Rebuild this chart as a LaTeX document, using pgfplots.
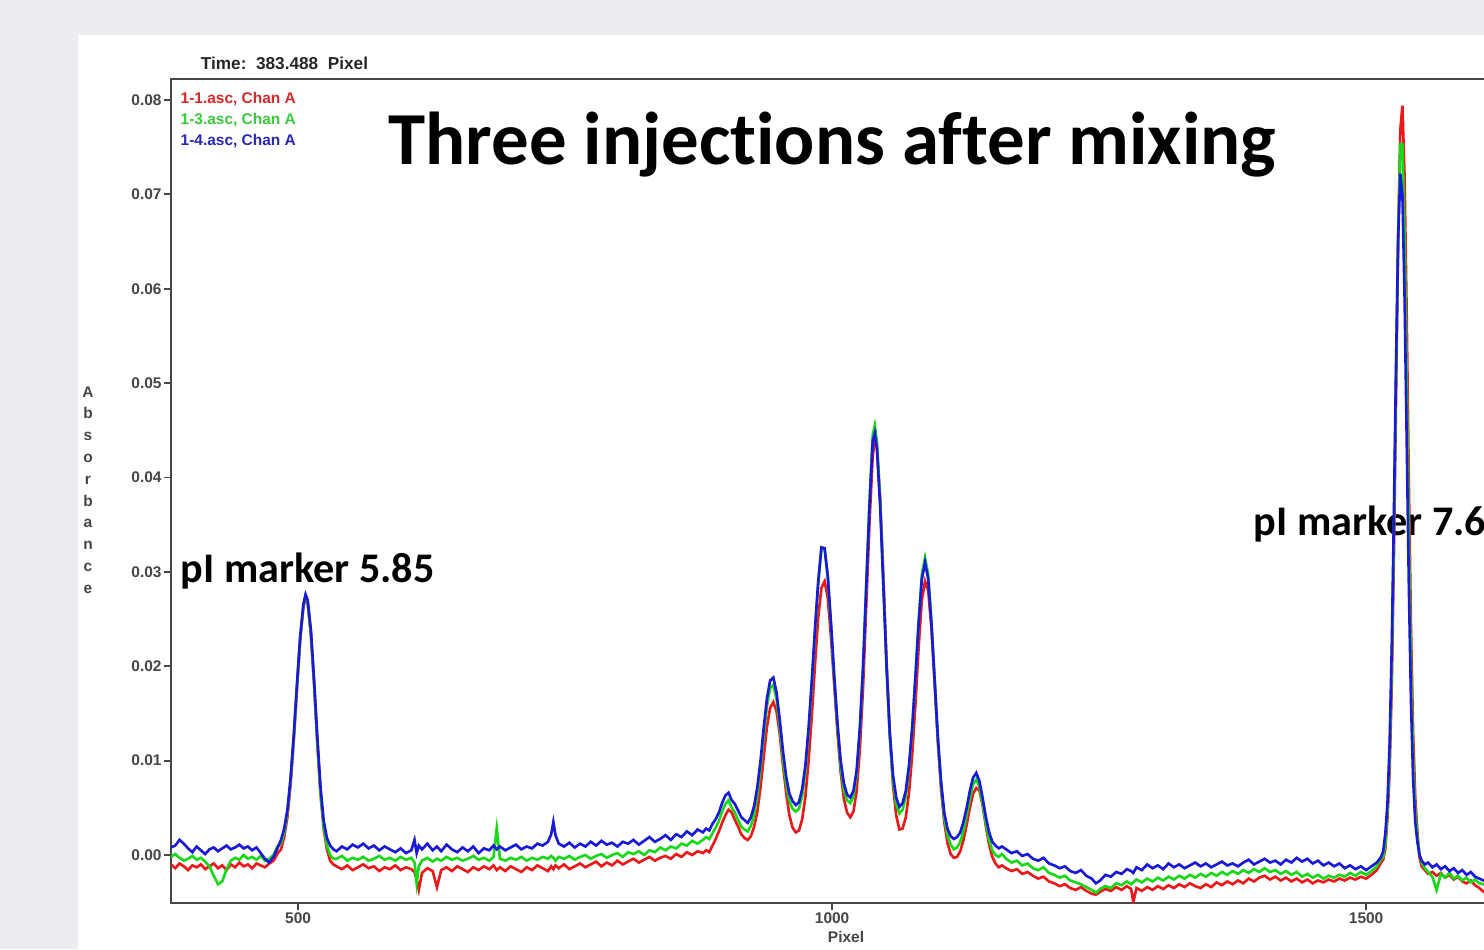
\documentclass[border=0pt]{standalone}
\usepackage{pgfplots}
\usepackage{pgfplotstable}
\pgfplotsset{compat=1.18}
\usepackage{fontspec}
\setmainfont{Liberation Sans}
\newfontfamily\calfont[Ligatures=NoCommon]{Carlito}
\newcommand\tlfont{\fontsize{4.4}{6.2}\selectfont\bfseries}
\definecolor{bggray}{RGB}{236,237,240}
\definecolor{axgray}{RGB}{70,70,70}
\definecolor{cred}{RGB}{235,25,25}
\definecolor{cgreen}{RGB}{25,215,25}
\definecolor{cblue}{RGB}{25,25,215}
\definecolor{tred}{RGB}{215,40,40}
\definecolor{tgreen}{RGB}{60,200,60}
\definecolor{tblue}{RGB}{40,40,180}

\pgfplotstableread{
x r g b
381 -0.0010 -0.0002 0.0008
385 -0.0014 0.0001 0.0010
389 -0.0009 -0.0003 0.0016
393 -0.0012 -0.0006 0.0012
397 -0.0016 -0.0004 0.0007
401 -0.0011 -0.0001 0.0003
405 -0.0013 -0.0005 0.0009
409 -0.0010 -0.0003 0.0005
413 -0.0015 -0.0007 0.0001
417 -0.0012 -0.0012 0.0006
421 -0.0009 -0.0022 0.0008
425 -0.0014 -0.0031 0.0004
429 -0.0011 -0.0028 0.0007
433 -0.0016 -0.0015 0.0010
437 -0.0010 -0.0006 0.0006
441 -0.0013 -0.0003 0.0008
445 -0.0008 -0.0005 0.0011
449 -0.0012 0.0000 0.0007
453 -0.0010 -0.0004 0.0009
457 -0.0014 -0.0002 0.0005
461 -0.0009 -0.0005 0.0008
465 -0.0011 -0.0001 0.0002
469 -0.0013 -0.0006 -0.0004
473 -0.0009 -0.0004 -0.0008
477 -0.0006 0.0000 -0.0002
481 0.0002 0.0010 0.0008
484 0.0006 0.0012 0.0016
487 0.0019 0.0024 0.0028
490 0.0040 0.0045 0.0048
493 0.0075 0.0080 0.0082
496 0.0122 0.0126 0.0128
499 0.0177 0.0180 0.0182
502 0.0228 0.0230 0.0232
505 0.0263 0.0265 0.0266
507 0.0273 0.0275 0.0276
509 0.0266 0.0268 0.0270
512 0.0233 0.0235 0.0238
515 0.0180 0.0182 0.0185
518 0.0118 0.0120 0.0125
521 0.0064 0.0066 0.0072
524 0.0027 0.0030 0.0036
527 0.0006 0.0010 0.0018
530 -0.0006 0.0000 0.0010
533 -0.0010 -0.0004 0.0006
536 -0.0012 -0.0004 0.0004
541 -0.0015 -0.0001 0.0009
546 -0.0011 -0.0006 0.0006
551 -0.0016 -0.0003 0.0011
556 -0.0013 -0.0005 0.0008
561 -0.0010 -0.0002 0.0012
566 -0.0014 -0.0006 0.0007
571 -0.0012 -0.0004 0.0010
576 -0.0017 -0.0001 0.0005
581 -0.0013 -0.0005 0.0009
586 -0.0015 -0.0003 0.0006
591 -0.0011 -0.0006 0.0003
596 -0.0016 -0.0002 0.0007
601 -0.0013 -0.0005 0.0002
606 -0.0015 -0.0003 0.0005
609 -0.0018 -0.0008 0.0016
611 -0.0026 -0.0030 0.0002
613 -0.0037 -0.0012 0.0010
616 -0.0019 -0.0006 0.0006
621 -0.0014 -0.0003 0.0012
626 -0.0017 -0.0007 0.0005
630 -0.0034 -0.0004 0.0009
634 -0.0016 -0.0006 0.0004
639 -0.0013 -0.0002 0.0011
644 -0.0017 -0.0005 0.0006
649 -0.0012 -0.0003 0.0003
654 -0.0015 -0.0006 0.0008
659 -0.0018 -0.0004 0.0004
664 -0.0013 -0.0001 0.0009
669 -0.0016 -0.0005 0.0002
674 -0.0012 -0.0003 0.0007
679 -0.0015 -0.0006 0.0005
683 -0.0011 -0.0002 0.0010
686 -0.0016 0.0028 0.0006
689 -0.0013 -0.0004 0.0009
694 -0.0017 -0.0006 0.0005
699 -0.0012 -0.0003 0.0008
704 -0.0015 -0.0005 0.0011
709 -0.0018 -0.0002 0.0006
714 -0.0013 -0.0006 0.0009
719 -0.0016 -0.0003 0.0007
724 -0.0011 -0.0005 0.0012
729 -0.0014 -0.0002 0.0010
734 -0.0017 -0.0004 0.0014
737 -0.0012 -0.0001 0.0022
739 -0.0015 -0.0003 0.0035
741 -0.0011 -0.0006 0.0021
744 -0.0014 -0.0002 0.0012
749 -0.0010 -0.0004 0.0009
754 -0.0015 -0.0001 0.0013
759 -0.0012 -0.0005 0.0008
764 -0.0009 -0.0002 0.0012
769 -0.0013 0.0000 0.0009
774 -0.0010 -0.0004 0.0014
779 -0.0007 -0.0001 0.0010
784 -0.0012 0.0001 0.0015
789 -0.0008 -0.0003 0.0011
794 -0.0011 0.0000 0.0013
799 -0.0006 0.0002 0.0009
804 -0.0010 -0.0002 0.0014
809 -0.0007 0.0003 0.0012
814 -0.0004 0.0001 0.0016
819 -0.0008 0.0004 0.0011
824 -0.0005 0.0000 0.0015
829 -0.0002 0.0005 0.0019
834 -0.0006 0.0003 0.0014
839 -0.0003 0.0008 0.0017
844 -0.0001 0.0005 0.0021
849 -0.0004 0.0009 0.0016
854 0.0001 0.0007 0.0022
859 -0.0002 0.0012 0.0019
864 0.0003 0.0010 0.0025
869 0.0000 0.0015 0.0021
874 0.0004 0.0012 0.0027
879 0.0002 0.0016 0.0024
882 0.0005 0.0019 0.0028
885 0.0003 0.0017 0.0026
888 0.0010 0.0023 0.0033
891 0.0017 0.0029 0.0038
894 0.0025 0.0036 0.0045
897 0.0034 0.0046 0.0055
900 0.0042 0.0054 0.0063
903 0.0048 0.0058 0.0066
906 0.0045 0.0050 0.0058
909 0.0037 0.0045 0.0054
912 0.0030 0.0037 0.0047
915 0.0022 0.0030 0.0040
918 0.0018 0.0027 0.0037
921 0.0016 0.0025 0.0034
924 0.0020 0.0031 0.0040
927 0.0030 0.0043 0.0052
930 0.0046 0.0063 0.0072
933 0.0072 0.0092 0.0100
936 0.0104 0.0127 0.0135
939 0.0136 0.0158 0.0166
942 0.0156 0.0177 0.0185
945 0.0162 0.0180 0.0188
948 0.0152 0.0165 0.0172
951 0.0128 0.0136 0.0143
954 0.0095 0.0102 0.0110
957 0.0066 0.0075 0.0083
960 0.0042 0.0057 0.0065
963 0.0029 0.0049 0.0057
966 0.0024 0.0046 0.0053
969 0.0026 0.0049 0.0056
972 0.0038 0.0063 0.0070
975 0.0062 0.0089 0.0095
978 0.0100 0.0130 0.0135
981 0.0148 0.0181 0.0185
984 0.0202 0.0237 0.0240
987 0.0252 0.0287 0.0290
990 0.0283 0.0324 0.0326
993 0.0290 0.0324 0.0325
996 0.0272 0.0293 0.0295
999 0.0230 0.0242 0.0245
1002 0.0180 0.0186 0.0190
1005 0.0130 0.0135 0.0140
1008 0.0088 0.0094 0.0100
1011 0.0060 0.0069 0.0076
1014 0.0045 0.0058 0.0064
1017 0.0040 0.0055 0.0061
1020 0.0046 0.0062 0.0068
1023 0.0068 0.0086 0.0090
1026 0.0112 0.0132 0.0135
1029 0.0178 0.0200 0.0200
1032 0.0265 0.0288 0.0285
1035 0.0352 0.0375 0.0370
1038 0.0422 0.0445 0.0438
1040 0.0440 0.0455 0.0447
1042 0.0432 0.0437 0.0430
1045 0.0378 0.0374 0.0370
1048 0.0295 0.0286 0.0285
1051 0.0205 0.0198 0.0200
1054 0.0128 0.0126 0.0130
1057 0.0074 0.0079 0.0085
1060 0.0042 0.0054 0.0061
1063 0.0027 0.0044 0.0051
1066 0.0028 0.0048 0.0055
1069 0.0040 0.0062 0.0068
1072 0.0066 0.0091 0.0095
1075 0.0106 0.0133 0.0135
1078 0.0160 0.0189 0.0188
1081 0.0220 0.0248 0.0245
1084 0.0270 0.0297 0.0292
1087 0.0290 0.0315 0.0310
1090 0.0280 0.0297 0.0292
1093 0.0240 0.0248 0.0245
1096 0.0182 0.0186 0.0185
1099 0.0120 0.0124 0.0125
1102 0.0070 0.0074 0.0078
1105 0.0035 0.0040 0.0045
1108 0.0013 0.0021 0.0028
1111 0.0001 0.0011 0.0020
1114 -0.0003 0.0006 0.0017
1117 -0.0002 0.0008 0.0019
1120 0.0004 0.0014 0.0024
1123 0.0016 0.0026 0.0035
1126 0.0032 0.0042 0.0050
1129 0.0050 0.0060 0.0068
1132 0.0065 0.0075 0.0082
1135 0.0071 0.0080 0.0087
1138 0.0068 0.0072 0.0078
1141 0.0052 0.0054 0.0060
1144 0.0030 0.0033 0.0040
1147 0.0011 0.0016 0.0024
1150 -0.0002 0.0005 0.0014
1153 -0.0009 0.0000 0.0010
1156 -0.0013 -0.0002 0.0007
1159 -0.0011 0.0001 0.0009
1163 -0.0014 -0.0004 0.0006
1168 -0.0017 -0.0008 0.0002
1173 -0.0015 -0.0006 0.0004
1178 -0.0020 -0.0011 -0.0001
1183 -0.0018 -0.0009 0.0001
1188 -0.0022 -0.0014 -0.0004
1193 -0.0025 -0.0016 -0.0006
1198 -0.0023 -0.0013 -0.0003
1203 -0.0028 -0.0019 -0.0009
1208 -0.0030 -0.0021 -0.0011
1213 -0.0033 -0.0024 -0.0014
1218 -0.0031 -0.0022 -0.0012
1223 -0.0035 -0.0027 -0.0017
1228 -0.0037 -0.0029 -0.0019
1233 -0.0034 -0.0031 -0.0016
1238 -0.0038 -0.0034 -0.0022
1243 -0.0041 -0.0037 -0.0025
1247 -0.0042 -0.0040 -0.0030
1251 -0.0039 -0.0036 -0.0027
1256 -0.0036 -0.0033 -0.0021
1261 -0.0038 -0.0035 -0.0023
1266 -0.0034 -0.0030 -0.0018
1271 -0.0037 -0.0032 -0.0020
1276 -0.0033 -0.0028 -0.0015
1280 -0.0036 -0.0031 -0.0017
1282 -0.0050 -0.0029 -0.0019
1285 -0.0035 -0.0026 -0.0013
1290 -0.0038 -0.0029 -0.0016
1295 -0.0034 -0.0025 -0.0010
1300 -0.0037 -0.0028 -0.0014
1305 -0.0033 -0.0024 -0.0011
1310 -0.0036 -0.0027 -0.0015
1315 -0.0032 -0.0023 -0.0009
1320 -0.0035 -0.0026 -0.0013
1325 -0.0031 -0.0022 -0.0010
1330 -0.0034 -0.0025 -0.0014
1335 -0.0030 -0.0021 -0.0011
1340 -0.0033 -0.0024 -0.0008
1345 -0.0035 -0.0020 -0.0012
1350 -0.0031 -0.0023 -0.0009
1355 -0.0034 -0.0019 -0.0013
1360 -0.0029 -0.0022 -0.0010
1365 -0.0032 -0.0018 -0.0007
1370 -0.0028 -0.0021 -0.0011
1375 -0.0031 -0.0017 -0.0009
1380 -0.0027 -0.0020 -0.0012
1385 -0.0030 -0.0016 -0.0008
1390 -0.0025 -0.0019 -0.0005
1395 -0.0028 -0.0015 -0.0010
1400 -0.0024 -0.0018 -0.0007
1405 -0.0022 -0.0014 -0.0004
1410 -0.0026 -0.0018 -0.0008
1415 -0.0023 -0.0016 -0.0006
1420 -0.0027 -0.0020 -0.0010
1425 -0.0024 -0.0017 -0.0005
1430 -0.0028 -0.0021 -0.0008
1435 -0.0025 -0.0018 -0.0003
1440 -0.0029 -0.0023 -0.0007
1445 -0.0026 -0.0020 -0.0004
1450 -0.0030 -0.0024 -0.0009
1455 -0.0027 -0.0021 -0.0006
1460 -0.0029 -0.0025 -0.0011
1465 -0.0026 -0.0022 -0.0008
1470 -0.0028 -0.0024 -0.0012
1475 -0.0025 -0.0021 -0.0009
1480 -0.0027 -0.0023 -0.0014
1485 -0.0024 -0.0019 -0.0011
1490 -0.0026 -0.0022 -0.0015
1495 -0.0023 -0.0018 -0.0012
1500 -0.0025 -0.0021 -0.0016
1505 -0.0021 -0.0017 -0.0012
1510 -0.0016 -0.0012 -0.0008
1514 -0.0008 -0.0004 -0.0002
1516 -0.0005 -0.0002 0.0004
1518 0.0007 0.0012 0.0023
1520 0.0039 0.0047 0.0055
1522 0.0089 0.0103 0.0118
1524 0.0179 0.0200 0.0220
1526 0.0315 0.0340 0.0360
1528 0.0484 0.0506 0.0519
1530 0.0651 0.0659 0.0654
1532 0.0768 0.0753 0.0722
1534 0.0794 0.0753 0.0699
1536 0.0719 0.0659 0.0592
1538 0.0571 0.0506 0.0440
1540 0.0396 0.0340 0.0286
1542 0.0241 0.0200 0.0163
1544 0.0129 0.0103 0.0081
1546 0.0061 0.0047 0.0035
1548 0.0025 0.0019 0.0014
1550 -0.0003 0.0000 0.0000
1552 -0.0012 -0.0008 -0.0006
1555 -0.0016 -0.0014 -0.0010
1558 -0.0020 -0.0018 -0.0008
1562 -0.0018 -0.0023 -0.0013
1566 -0.0022 -0.0037 -0.0010
1570 -0.0019 -0.0020 -0.0015
1574 -0.0024 -0.0024 -0.0012
1578 -0.0021 -0.0019 -0.0017
1582 -0.0026 -0.0025 -0.0014
1586 -0.0023 -0.0022 -0.0019
1590 -0.0028 -0.0027 -0.0016
1594 -0.0030 -0.0024 -0.0021
1598 -0.0027 -0.0029 -0.0018
1602 -0.0032 -0.0026 -0.0023
1606 -0.0035 -0.0030 -0.0025
1610 -0.0039 -0.0031 -0.0027
1614 -0.0040 -0.0032 -0.0028
}\spectra

\begin{document}
\begin{tikzpicture}[x=1cm,y=1cm]
\useasboundingbox (0,0) rectangle (14.84,9.49);
\clip (0,0) rectangle (14.84,9.49);
\fill[bggray] (0,0) rectangle (14.84,9.49);
\fill[white] (0.78,0) rectangle (14.84,9.14);
% texts
\node[anchor=base west, inner sep=0, font=\calfont\bfseries\fontsize{21.3}{25}\selectfont] at (3.88,7.84) {Three injections after mixing};
\node[anchor=base west, inner sep=0, font=\calfont\bfseries\fontsize{12}{14}\selectfont] at (1.80,3.67) {pI marker 5.85};
\node[anchor=base west, inner sep=0, font=\calfont\bfseries\fontsize{12}{14}\selectfont] at (12.53,4.14) {pI marker 7.6};
\node[font=\fontsize{4.9}{6}\selectfont\bfseries, text=black!85, inner sep=0] at (2.845,8.86) {Time:\ \ 383.488\ \ Pixel};
\node[anchor=west, inner sep=0, font=\tlfont, text=tred] at (1.80,8.50) {1-1.asc, Chan A};
\node[anchor=west, inner sep=0, font=\tlfont, text=tgreen] at (1.80,8.29) {1-3.asc, Chan A};
\node[anchor=west, inner sep=0, font=\tlfont, text=tblue] at (1.80,8.08) {1-4.asc, Chan A};
\node[align=center, inner sep=0, font=\tlfont, text=axgray] at (0.88,4.59) {A\\b\\s\\o\\r\\b\\a\\n\\c\\e};
\node[inner sep=0, font=\tlfont, text=axgray] at (8.46,0.12) {Pixel};
\begin{axis}[
  at={(1.71cm,0.46cm)}, anchor=south west,
  scale only axis, width=14.087cm, height=8.24cm,
  xmin=381, xmax=1700, ymin=-0.005086, ymax=0.08222,
  axis line style={axgray, line width=0.7pt},
  xtick={500,1000,1500},
  ytick={0,0.01,0.02,0.03,0.04,0.05,0.06,0.07,0.08},
  scaled y ticks=false, scaled x ticks=false,
  ticklabel style={font=\tlfont, text=axgray},
  yticklabel style={xshift=0.1cm, /pgf/number format/.cd, fixed, fixed zerofill, precision=2, assume math mode=true},
  xticklabel style={yshift=0.1cm, /pgf/number format/.cd, 1000 sep={}, assume math mode=true},
  tick align=outside, major tick length=0.07cm,
  tick style={axgray, line width=0.5pt},
  xtick pos=bottom, ytick pos=left,
  clip=true,
]
\addplot[cred, line width=0.75pt] table[x=x, y=r] {\spectra};
\addplot[cgreen, line width=0.75pt] table[x=x, y=g] {\spectra};
\addplot[cblue, line width=0.75pt] table[x=x, y=b] {\spectra};
\end{axis}
\end{tikzpicture}
\end{document}
